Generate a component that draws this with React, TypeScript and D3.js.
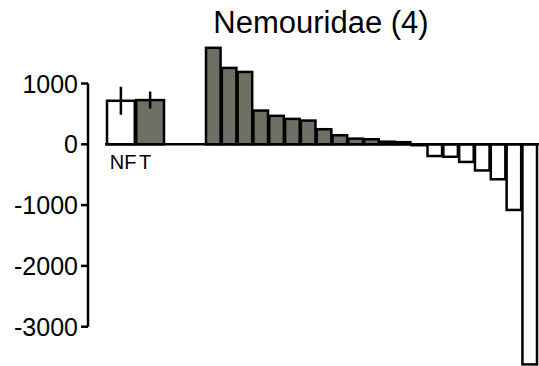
import { useEffect } from 'react';
import * as d3 from 'd3';

// mean values for the two summary bars, with error bars
const GROUPS = ['NF', 'T'];
const GROUP_MEANS = [716, 727];
const GROUP_ERRORS = [230, 140];
const GROUP_FILLS = ['#ffffff', '#6f6f65'];

// ranked per-taxon differences (positive = T, negative = NF)
const RANKED = [
  1587, 1256, 1190, 555, 468, 418, 390, 248, 149, 93, 83, 43, 35,
  -15, -193, -205, -290, -430, -575, -1080, -3620,
];

const Y_TICKS = [1000, 0, -1000, -2000, -3000];
const TITLE = 'Nemouridae (4)';

const W = 539;
const H = 366;
const DARK = '#6f6f65';

export default function App() {
  useEffect(() => {
    document.body.style.margin = '0';
  }, []);

  const y = d3.scaleLinear().domain([-3000, 1000]).range([326.7, 83.5]);
  const xGroup = d3.scaleBand<string>().domain(GROUPS).range([107, 164]).paddingInner(0.05);
  const xRank = d3
    .scaleBand<number>()
    .domain(RANKED.map((_, i) => i))
    .range([206, 537])
    .paddingInner(0.08);

  const axisX = 88;
  const font = 'Arial, "Liberation Sans", sans-serif';
  const sw = 2.5;

  return (
    <svg width={W} height={H} style={{ display: 'block' }} fontFamily={font}>
      <text x={321} y={33} textAnchor="middle" fontSize={31} fill="#000">
        {TITLE}
      </text>

      {/* y axis */}
      <line x1={axisX} x2={axisX} y1={y(1000)} y2={y(-3000)} stroke="#000" strokeWidth={sw} />
      {Y_TICKS.map((t) => (
        <g key={t}>
          <line x1={axisX - 7} x2={axisX} y1={y(t)} y2={y(t)} stroke="#000" strokeWidth={sw} />
          <text x={78} y={y(t)} dy="0.36em" textAnchor="end" fontSize={25} fill="#000">
            {t}
          </text>
        </g>
      ))}

      {/* summary bars */}
      {GROUPS.map((g, i) => {
        const x0 = xGroup(g)!;
        const bw = xGroup.bandwidth();
        const v = GROUP_MEANS[i];
        const cx = x0 + bw / 2;
        return (
          <g key={g}>
            <rect
              x={x0}
              y={y(v)}
              width={bw}
              height={y(0) - y(v)}
              fill={GROUP_FILLS[i]}
              stroke="#000"
              strokeWidth={sw}
            />
            <line
              x1={cx}
              x2={cx}
              y1={y(v + GROUP_ERRORS[i])}
              y2={y(v - GROUP_ERRORS[i])}
              stroke="#000"
              strokeWidth={sw}
            />
            <text x={x0 + bw * 0.1} y={168.5} fontSize={20} fill="#000">
              {g}
            </text>
          </g>
        );
      })}

      {/* ranked bars */}
      {RANKED.map((v, i) => (
        <rect
          key={i}
          x={xRank(i)!}
          y={y(Math.max(0, v))}
          width={xRank.bandwidth()}
          height={Math.abs(y(v) - y(0))}
          fill={v >= 0 ? DARK : '#ffffff'}
          stroke="#000"
          strokeWidth={sw}
        />
      ))}

      {/* baseline */}
      <line x1={105} x2={539} y1={y(0)} y2={y(0)} stroke="#000" strokeWidth={sw} />
    </svg>
  );
}
